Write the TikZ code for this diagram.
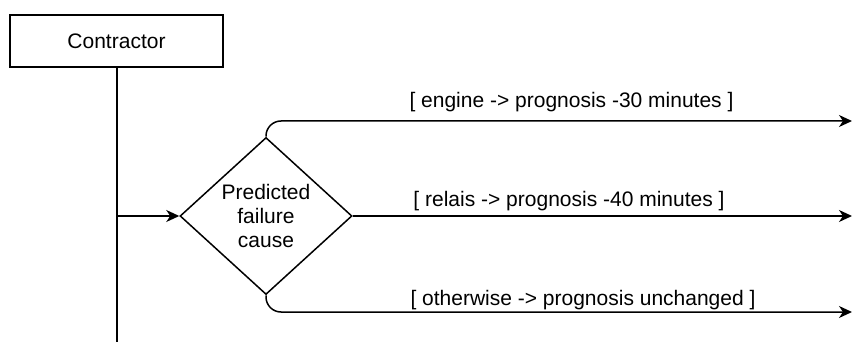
\documentclass[tikz,border=0pt]{standalone}
\usepackage{fontspec}
\setmainfont{Liberation Sans}
\usepackage{tikz}
\usetikzlibrary{shapes.geometric,arrows.meta}

\begin{document}
\begin{tikzpicture}[x=1pt, y=-1pt, line width=1.5pt,
	every node/.style={font=\fontsize{21}{24}\selectfont, align=center},
	flow/.style={-{Stealth[length=13pt, width=12pt, inset=4pt]}}]

	\useasboundingbox (0,0) rectangle (852,342);

	\node[draw, minimum width=213pt, minimum height=52pt, inner sep=0pt] (contractor) at (116.5,41) {Contractor};
	\node[draw, diamond, aspect=1.1, inner sep=0pt, minimum width=172pt, minimum height=157pt] (cause) at (266,216) {Predicted\\failure\\cause};

	\coordinate (bottom) at (117,342);
	\coordinate (split) at (117,216);
	\coordinate (out1) at (852,121);
	\coordinate (out2) at (852,216);
	\coordinate (out3) at (852,312);

	\node [draw=none, fill=none] (l1) at (571.5,102) {[ engine -> prognosis -30 minutes ]};
	\node [draw=none, fill=none] (l2) at (569,201) {[ relais -> prognosis -40 minutes ]};
	\node [draw=none, fill=none] (l3) at (583,300) {[ otherwise -> prognosis unchanged ]};

	\draw (contractor.south -| bottom) -- (bottom);
	\draw[flow] (split) -- (cause.west);
	\draw[flow, rounded corners=15pt] (cause.north) |- (out1);
	\draw[flow] (cause.east) -- (out2);
	\draw[flow, rounded corners=15pt] (cause.south) |- (out3);
  \end{tikzpicture}
\end{document}
